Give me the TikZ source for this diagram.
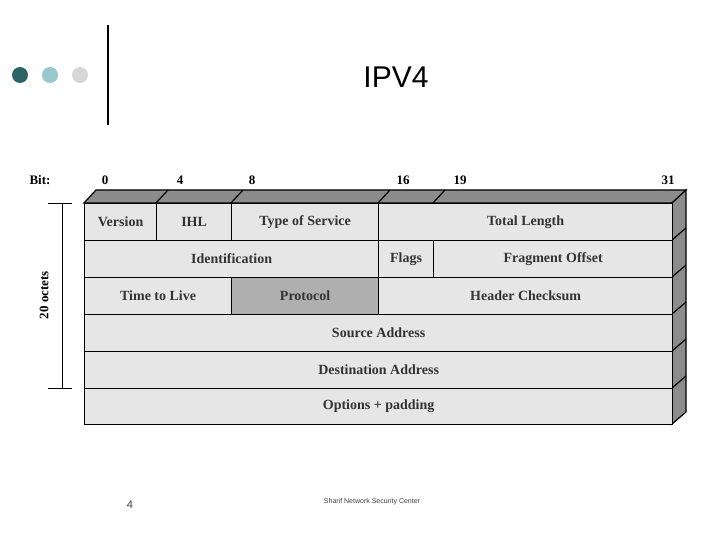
\documentclass[tikz,border=0pt]{standalone}
\usepackage{fontspec}
\setmainfont{Liberation Serif}
\newfontfamily\titlefont{Liberation Sans}
\begin{document}
\begin{tikzpicture}[x=1pt,y=-1pt,
  fld/.style={draw,line width=1.2pt,fill=cellgray},
  lbl/.style={font=\fontsize{14}{16}\selectfont\bfseries,text=black!80},
  bitl/.style={font=\fontsize{13}{15}\selectfont\bfseries,anchor=base}]
\definecolor{cellgray}{RGB}{230,230,230}
\definecolor{protogray}{RGB}{175,175,175}
\definecolor{sidegray}{RGB}{140,140,140}
\definecolor{dteal}{RGB}{45,100,100}
\definecolor{lteal}{RGB}{150,200,205}
\definecolor{lgray}{RGB}{215,215,215}
\useasboundingbox (0,0) rectangle (720,540);
\fill[white] (0,0) rectangle (720,540);
% header decoration
\fill[dteal] (20,75) circle (8);
\fill[lteal] (50,75) circle (8);
\fill[lgray] (80,75) circle (8);
\draw[line width=1.5pt] (108,25) -- (108,125);
\node[font=\titlefont\fontsize{30}{34}\selectfont] (title) at (396,77) {IPV4};
% top and side faces
\draw[line width=1.2pt,fill=sidegray] (84,203) -- (96,190) -- (686,190) -- (672,203) -- cycle;
\draw[line width=1.2pt,fill=sidegray] (672,203) -- (686,190) -- (686,412) -- (672,424) -- cycle;
\foreach \x in {156,231,378,433} \draw[line width=1.2pt] (\x,203) -- (\x+12,190);
\foreach \y in {240,277,314,351,388} \draw[line width=1.2pt] (672,\y) -- (686,\y-12);
% fields
\node[fld,minimum width=72,minimum height=37,inner sep=0,anchor=north west,lbl] (ver) at (84,203) {Version};
\node[fld,minimum width=75,minimum height=37,inner sep=0,anchor=north west,lbl] (ihl) at (156,203) {IHL};
\node[fld,minimum width=147,minimum height=37,inner sep=0,anchor=north west,lbl] (tos) at (231,203) {Type of Service};
\node[fld,minimum width=294,minimum height=37,inner sep=0,anchor=north west,lbl] (tl) at (378,203) {Total Length};
\node[fld,minimum width=294,minimum height=37,inner sep=0,anchor=north west,lbl] (id) at (84,240) {Identification};
\node[fld,minimum width=55,minimum height=37,inner sep=0,anchor=north west,lbl] (flags) at (378,240) {Flags};
\node[fld,minimum width=239,minimum height=37,inner sep=0,anchor=north west,lbl] (fo) at (433,240) {Fragment Offset};
\node[fld,minimum width=147,minimum height=37,inner sep=0,anchor=north west,lbl] (ttl) at (84,277) {Time to Live};
\node[fld,fill=protogray,minimum width=147,minimum height=37,inner sep=0,anchor=north west,lbl] (proto) at (231,277) {Protocol};
\node[fld,minimum width=294,minimum height=37,inner sep=0,anchor=north west,lbl] (hc) at (378,277) {Header Checksum};
\node[fld,minimum width=588,minimum height=37,inner sep=0,anchor=north west,lbl] (src) at (84,314) {Source Address};
\node[fld,minimum width=588,minimum height=37,inner sep=0,anchor=north west,lbl] (dst) at (84,351) {Destination Address};
\node[fld,minimum width=588,minimum height=36,inner sep=0,anchor=north west,lbl] (opt) at (84,388) {Options + padding};
% bit labels
\node[bitl] (bit) at (40,185) {Bit:};
\node[bitl] (b0) at (105,185) {0};
\node[bitl] (b4) at (180,185) {4};
\node[bitl] (b8) at (252,185) {8};
\node[bitl] (b16) at (403,185) {16};
\node[bitl] (b19) at (460,185) {19};
\node[bitl] (b31) at (668,185) {31};
% bracket
\coordinate (bt) at (62,203);
\coordinate (bb) at (62,388);
\draw[line width=0.8pt] (bt) -- (bb);
\draw[line width=0.8pt] (48,203) -- (72,203);
\draw[line width=0.8pt] (48,388) -- (72,388);
\node[bitl,rotate=90,anchor=center] (oct) at (44,295) {20 octets};
% footer
\node[font=\titlefont\fontsize{11}{13}\selectfont,text=black!75] (pg) at (130,505) {4};
\node[font=\titlefont\fontsize{7}{9}\selectfont,text=black!75] (foot) at (372,502) {Sharif Network Security Center};
\end{tikzpicture}
\end{document}
